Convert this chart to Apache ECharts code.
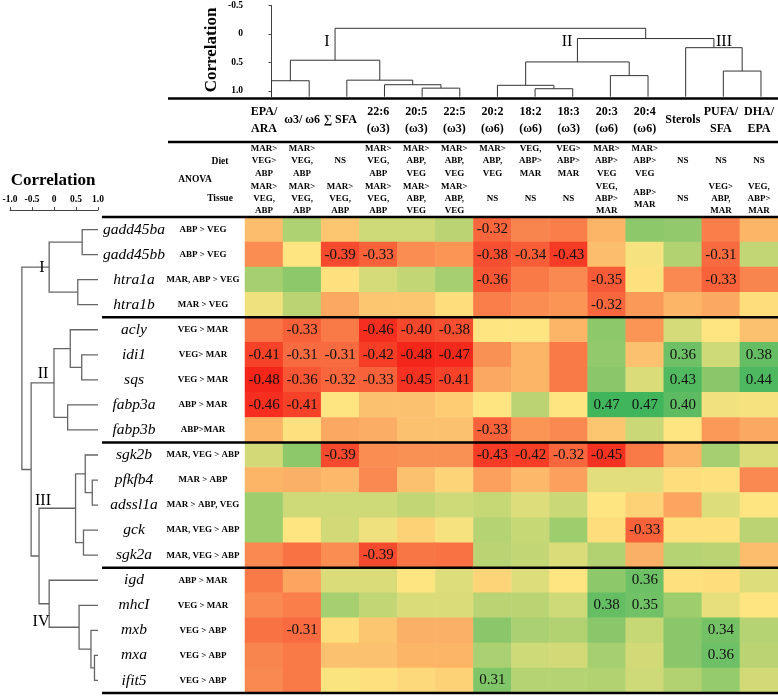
<!DOCTYPE html>
<html><head><meta charset="utf-8">
<script src="https://cdn.jsdelivr.net/npm/echarts@6/dist/echarts.min.js"></script>
<style>html,body{margin:0;padding:0;background:#fff}#c{width:778px;height:697px}</style>
</head><body><div id="c"></div>
<script>
// ---------------- DATA ----------------
const genes = ['gadd45ba','gadd45bb','htra1a','htra1b','acly','idi1','sqs','fabp3a','fabp3b','sgk2b','pfkfb4','adssl1a','gck','sgk2a','igd','mhcI','mxb','mxa','ifit5'];
const geneAnova = ['ABP > VEG','ABP > VEG','MAR, ABP > VEG','MAR > VEG','VEG > MAR','VEG> MAR','VEG > MAR','ABP > MAR','ABP>MAR','MAR, VEG > ABP','MAR > ABP','MAR > ABP, VEG','MAR, VEG > ABP','MAR, VEG > ABP','ABP > MAR','VEG > MAR','VEG > ABP','VEG > ABP','VEG > ABP'];
const geneClusters = ['I','I','I','I','II','II','II','II','II','III','III','III','III','III','IV','IV','IV','IV','IV'];
const fattyAcids = ['EPA/\nARA','ω3/ ω6','∑ SFA','22:6\n(ω3)','20:5\n(ω3)','22:5\n(ω3)','20:2\n(ω6)','18:2\n(ω6)','18:3\n(ω3)','20:3\n(ω6)','20:4\n(ω6)','Sterols','PUFA/\nSFA','DHA/\nEPA'];
const dietAnova = ['MAR>\nVEG>\nABP','MAR>\nVEG,\nABP','NS','MAR>\nVEG,\nABP','MAR>\nABP,\nVEG','MAR>\nABP,\nVEG','MAR>\nABP,\nVEG','VEG,\nABP>\nMAR','VEG>\nABP>\nMAR','MAR>\nABP>\nVEG','MAR>\nABP>\nVEG','NS','NS','NS'];
const tissueAnova = ['MAR>\nVEG,\nABP','MAR>\nVEG,\nABP','MAR>\nVEG,\nABP','MAR>\nVEG,\nABP','MAR>\nABP,\nVEG','MAR>\nABP,\nVEG','NS','NS','NS','VEG,\nABP>\nMAR','ABP>\nMAR','NS','VEG>\nABP,\nMAR','VEG,\nABP>\nMAR'];

// correlation per gene (columns in fattyAcids order)
const r_gadd45ba = [-0.10, 0.20,-0.08, 0.12, 0.12, 0.17,-0.32,-0.24,-0.26,-0.12, 0.28, 0.27,-0.26,-0.12];
const r_gadd45bb = [-0.22, 0.00,-0.39,-0.33,-0.22,-0.20,-0.38,-0.34,-0.43,-0.10, 0.02, 0.19,-0.31, 0.15];
const r_htra1a   = [ 0.22, 0.28,-0.01, 0.10, 0.15, 0.22,-0.36,-0.27,-0.23,-0.35,-0.01,-0.23,-0.33,-0.24];
const r_htra1b   = [ 0.04, 0.17,-0.15,-0.08,-0.08,-0.02,-0.26,-0.22,-0.20,-0.32,-0.19,-0.12,-0.15,-0.02];
const r_acly     = [-0.28,-0.33,-0.27,-0.46,-0.40,-0.38, 0.00, 0.00,-0.12, 0.28,-0.20, 0.10, 0.00,-0.09];
const r_idi1     = [-0.41,-0.31,-0.31,-0.42,-0.48,-0.47,-0.21,-0.12,-0.27, 0.27,-0.09, 0.36, 0.12, 0.38];
const r_sqs      = [-0.48,-0.36,-0.32,-0.33,-0.45,-0.41,-0.15,-0.12,-0.27, 0.29, 0.09, 0.43, 0.29, 0.44];
const r_fabp3a   = [-0.46,-0.41, 0.00,-0.09,-0.09,-0.06, 0.00, 0.17, 0.00, 0.47, 0.47, 0.40, 0.03, 0.02];
const r_fabp3b   = [-0.12,-0.01,-0.15,-0.14,-0.09,-0.09,-0.33,-0.20,-0.23,-0.08, 0.13, 0.00,-0.19,-0.15];
const r_sgk2b    = [ 0.11, 0.28,-0.39,-0.22,-0.21,-0.21,-0.43,-0.42,-0.32,-0.45,-0.27,-0.12, 0.22, 0.09];
const r_pfkfb4   = [-0.12,-0.13,-0.11,-0.23,-0.09,-0.04,-0.17,-0.11,-0.17, 0.07, 0.07,-0.02,-0.01,-0.23];
const r_adssl1a  = [ 0.24, 0.12, 0.12, 0.12, 0.15, 0.12, 0.14, 0.08, 0.13, 0.00,-0.05,-0.16, 0.08, 0.00];
const r_gck      = [ 0.24, 0.00, 0.11, 0.04,-0.05, 0.02, 0.18, 0.14, 0.24,-0.02,-0.33,-0.01,-0.01, 0.17];
const r_sgk2a    = [-0.23,-0.29,-0.22,-0.39,-0.28,-0.29, 0.17, 0.15, 0.09, 0.19,-0.13, 0.18, 0.17,-0.10];
const r_igd      = [-0.27,-0.16, 0.09, 0.09, 0.00, 0.08,-0.04, 0.08, 0.00, 0.28, 0.36,-0.01,-0.02, 0.08];
const r_mhcI     = [-0.23,-0.26, 0.22, 0.15, 0.09, 0.09, 0.17, 0.17, 0.12, 0.38, 0.35, 0.24, 0.06, 0.00];
const r_mxb      = [-0.29,-0.31,-0.02,-0.08,-0.13,-0.13, 0.29, 0.21, 0.19, 0.29, 0.14, 0.29, 0.34, 0.18];
const r_mxa      = [-0.24,-0.27,-0.09,-0.09,-0.12,-0.12, 0.21, 0.12, 0.11, 0.22, 0.11, 0.29, 0.36, 0.17];
const r_ifit5    = [-0.23,-0.27, 0.01,-0.01,-0.03,-0.05, 0.31, 0.18, 0.18, 0.19, 0.12, 0.19, 0.26, 0.11];
const geneRows = [r_gadd45ba,r_gadd45bb,r_htra1a,r_htra1b,r_acly,r_idi1,r_sqs,r_fabp3a,r_fabp3b,r_sgk2b,r_pfkfb4,r_adssl1a,r_gck,r_sgk2a,r_igd,r_mhcI,r_mxb,r_mxa,r_ifit5];

// hierarchical clustering merges: [childA, childB, correlation height]; ids >= n are earlier merges
const rowLinkage = [
  [0,1,0.64],[2,3,0.54],[19,20,-0.11],
  [5,6,0.63],[4,22,0.37],[7,8,0.31],[23,24,0.0],
  [10,11,0.87],[9,26,0.71],[12,13,0.67],[27,28,0.49],
  [17,18,0.92],[16,30,0.84],[15,31,0.57],[14,32,-0.11],
  [29,33,-0.34],[25,34,-0.52],[21,35,-0.73]
];
const colLinkage = [
  [4,5,0.95],[3,14,0.89],[2,15,0.81],[0,1,0.82],[17,16,0.46],
  [7,8,0.96],[6,19,0.90],[9,10,0.73],[20,21,0.49],
  [12,13,0.65],[11,23,0.24],[22,24,0.08],[18,25,-0.10]
];
const rowLeafLevel = 1.0;
const colLeafLevel = 1.1;

// ---------------- BUILD ----------------
const SERIF = '"Liberation Serif","Times New Roman",serif';
function segments(linkage, n, leafLevel){
  const pos=[], h=[], segs=[];
  for(let i=0;i<n;i++){pos[i]=i;h[i]=leafLevel;}
  linkage.forEach(([a,b,hh],k)=>{
    segs.push([pos[a],h[a],pos[b],h[b],hh]);
    pos[n+k]=(pos[a]+pos[b])/2; h[n+k]=hh;
  });
  return segs;
}
const cells=[];
geneRows.forEach((row,ri)=>row.forEach((v,ci)=>cells.push([ci,ri,v])));
const rowSegs = segments(rowLinkage, genes.length, rowLeafLevel);
const colSegs = segments(colLinkage, fattyAcids.length, colLeafLevel);

const HM = {left:245, top:217, width:533, height:476};
const rowH = HM.height/genes.length;
const fmt = v => v===0 ? '0' : v.toFixed(1);

const chart = echarts.init(document.getElementById('c'));
const lines=[];
function hline(y,x1,x2){lines.push({type:'line',shape:{x1:x1,y1:y,x2:x2,y2:y},style:{stroke:'#000',lineWidth:2.5},silent:true,z:50});}
hline(98.5,168,778); hline(142,168,778); hline(HM.top,102,778);
for(let i=1;i<genes.length;i++){ if(geneClusters[i]!==geneClusters[i-1]) hline(HM.top+rowH*i,102,778); }
hline(HM.top+HM.height,102,778);
function txt(t,x,y,size,weight,extra){
  return Object.assign({type:'text',x:x,y:y,silent:true,z:60,style:{text:t,fontFamily:SERIF,fontSize:size,fontWeight:weight||'normal',fill:'#000',align:'center',verticalAlign:'middle',textAlign:'center',textVerticalAlign:'middle'}},extra||{});
}
const texts=[
  txt('Correlation',212,50,17,'bold',{rotation:Math.PI/2}),
  txt('Correlation',53,181,17,'bold'),
  txt('ANOVA',195,180,9.5,'bold'),
  txt('Diet',220,162,9.5,'bold'),
  txt('Tissue',220,199,9.5,'bold'),
  txt('I',327,42,16), txt('II',567,42,16), txt('III',724,42,16),
  txt('I',42,268,16), txt('II',43,374,16), txt('III',43,501,16), txt('IV',41,622,16)
];

function dendroItem(horizontal,color,width){
  return function(params,api){
    const pa=api.value(0),ha=api.value(1),pb=api.value(2),hb=api.value(3),hn=api.value(4);
    const c = horizontal ? (p,h)=>api.coord([h,p]) : (p,h)=>api.coord([p,h]);
    return {type:'polyline',shape:{points:[c(pa,ha),c(pa,hn),c(pb,hn),c(pb,hb)]},style:{stroke:color,lineWidth:width,fill:'none'}};
  };
}
const catAxisCommon = {axisLine:{show:false},axisTick:{show:false},splitLine:{show:false}};
const tickAxisStyle = {axisLine:{show:true,lineStyle:{color:'#444',width:1}},axisTick:{show:true,length:3,lineStyle:{color:'#444'}},splitLine:{show:false}};

chart.setOption({
  animation:false,
  backgroundColor:'#fff',
  grid:[
    {left:HM.left,top:HM.top,width:HM.width,height:HM.height,outerBoundsMode:'none',containLabel:false},
    {left:10,top:HM.top,width:88,height:HM.height,outerBoundsMode:'none',containLabel:false},
    {left:252.7,top:5.5,width:527.1,height:91.2,outerBoundsMode:'none',containLabel:false},
    {left:10,top:208,width:88,height:2,outerBoundsMode:'none',containLabel:false}
  ],
  xAxis:[
    Object.assign({gridIndex:0,type:'category',data:fattyAcids,position:'top',
      axisLabel:{interval:0,hideOverlap:false,margin:97,verticalAlign:'middle',fontFamily:SERIF,fontWeight:'bold',fontSize:12,lineHeight:17,color:'#000'}},catAxisCommon),
    Object.assign({gridIndex:0,type:'category',data:dietAnova,position:'top',
      axisLabel:{interval:0,hideOverlap:false,margin:56,verticalAlign:'middle',fontFamily:SERIF,fontWeight:'bold',fontSize:9,lineHeight:12.5,color:'#000'}},catAxisCommon),
    Object.assign({gridIndex:0,type:'category',data:tissueAnova,position:'top',
      axisLabel:{interval:0,hideOverlap:false,margin:18,verticalAlign:'middle',fontFamily:SERIF,fontWeight:'bold',fontSize:9,lineHeight:12,color:'#000'}},catAxisCommon),
    {gridIndex:1,type:'value',min:-1,max:1,show:false},
    {gridIndex:2,type:'value',min:-0.5,max:fattyAcids.length-0.5,show:false},
    Object.assign({gridIndex:3,type:'value',min:-1,max:1,interval:0.5,position:'top',
      axisLabel:{margin:3,formatter:fmt,fontFamily:SERIF,fontWeight:'bold',fontSize:9.5,color:'#000'}},tickAxisStyle)
  ],
  yAxis:[
    Object.assign({gridIndex:0,type:'category',data:genes,inverse:true,position:'left',
      axisLabel:{interval:0,margin:111,align:'center',fontFamily:SERIF,fontStyle:'italic',fontSize:15.5,color:'#000'}},catAxisCommon),
    Object.assign({gridIndex:0,type:'category',data:geneAnova,inverse:true,position:'left',
      axisLabel:{interval:0,margin:42,align:'center',fontFamily:SERIF,fontWeight:'bold',fontSize:9,color:'#000'}},catAxisCommon),
    {gridIndex:1,type:'value',min:-0.5,max:genes.length-0.5,inverse:true,show:false},
    Object.assign({gridIndex:2,type:'value',min:-0.5,max:colLeafLevel,interval:0.5,inverse:true,position:'left',offset:6.7,
      axisLabel:{margin:3,showMaxLabel:false,formatter:fmt,fontFamily:SERIF,fontWeight:'bold',fontSize:9.5,color:'#000'}},tickAxisStyle),
    {gridIndex:3,type:'value',min:0,max:1,show:false}
  ],
  visualMap:{type:'continuous',show:false,min:-0.5,max:0.5,dimension:2,seriesIndex:0,
    inRange:{color:['#f41e16','#fee581','#35b25a']}},
  series:[
    {type:'heatmap',xAxisIndex:0,yAxisIndex:0,data:cells,silent:true,
      itemStyle:{borderWidth:0},
      label:{show:true,fontFamily:SERIF,fontSize:15,color:'#111',
        formatter:p=>Math.abs(p.value[2])>=0.305 ? p.value[2].toFixed(2) : ''}},
    {type:'custom',xAxisIndex:3,yAxisIndex:2,data:rowSegs,clip:false,silent:true,
      encode:{x:[1,3,4],y:[0,2]},renderItem:dendroItem(true,'#666',1.3)},
    {type:'custom',xAxisIndex:4,yAxisIndex:3,data:colSegs,clip:false,silent:true,
      encode:{x:[0,2],y:[1,3,4]},renderItem:dendroItem(false,'#333',1)}
  ],
  graphic:lines.concat(texts)
});
</script></body></html>
